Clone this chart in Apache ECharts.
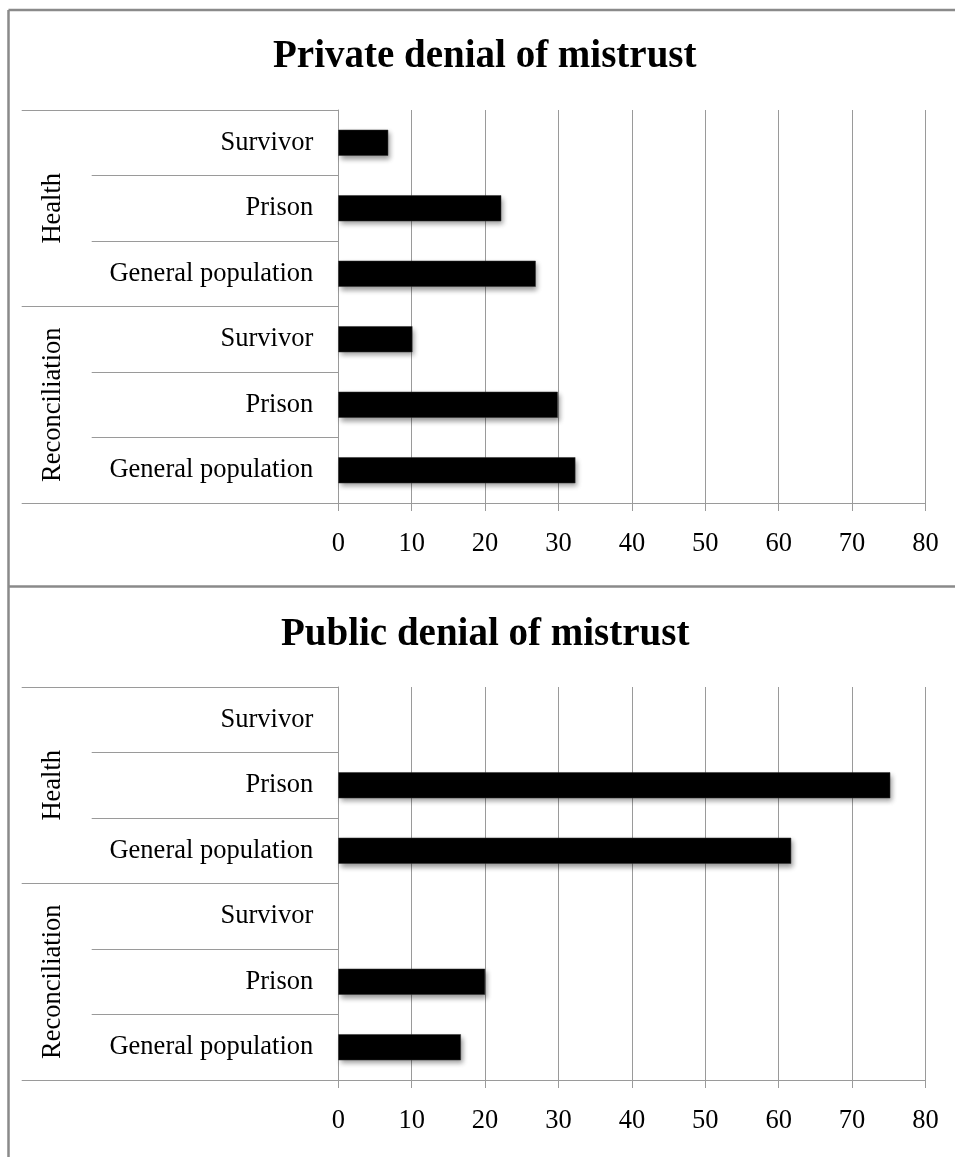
<!DOCTYPE html>
<html>
<head>
<meta charset="utf-8">
<script src="https://cdn.jsdelivr.net/npm/echarts@6/dist/echarts.min.js"></script>
<style>
  html, body { margin: 0; padding: 0; background: #fff; }
  #chart { width: 955px; height: 1157px; }
</style>
</head>
<body>
<div id="chart"></div>
<script>
// ---- data ----
const titles = ['Private denial of mistrust', 'Public denial of mistrust'];
const groups = ['Health', 'Reconciliation'];
const categories = ['Survivor', 'Prison', 'General population', 'Survivor', 'Prison', 'General population'];
const privateValues = [6.8, 22.2, 26.9, 10.1, 29.9, 32.3];
const publicValues = [null, 75.2, 61.7, null, 20, 16.7];
const xTicks = [0, 10, 20, 30, 40, 50, 60, 70, 80];

const panels = [privateValues, publicValues];

const FONT = '"Liberation Serif", "Times New Roman", serif';
const LINE = '#9a9a9a';
const FRAME = '#8a8a8a';
const gridLeft = 338.3, gridWidth = 587.2, gridHeight = 393;
const gridTops = [110, 687];
const titleTops = [37, 615];
const titleLefts = [273, 281];

const option = {
  backgroundColor: '#fff',
  animation: false,
  title: [],
  grid: [],
  xAxis: [],
  yAxis: [],
  series: [],
  graphic: [
    { type: 'line', shape: { x1: 8.5, y1: 10, x2: 955, y2: 10 }, style: { stroke: FRAME, lineWidth: 2.5 } },
    { type: 'line', shape: { x1: 8.5, y1: 10, x2: 8.5, y2: 1157 }, style: { stroke: FRAME, lineWidth: 2.5 } },
    { type: 'line', shape: { x1: 8.5, y1: 586.5, x2: 955, y2: 586.5 }, style: { stroke: FRAME, lineWidth: 2.5 } }
  ]
};

panels.forEach((vals, i) => {
  option.title.push({
    text: titles[i],
    left: titleLefts[i],
    top: titleTops[i],
    padding: 0,
    textStyle: { fontFamily: FONT, fontSize: 39, fontWeight: 'bold', color: '#000', lineHeight: 39 }
  });
  option.grid.push({ left: gridLeft, top: gridTops[i], width: gridWidth, height: gridHeight, containLabel: false });
  option.xAxis.push({
    type: 'value', gridIndex: i,
    min: xTicks[0], max: xTicks[xTicks.length - 1], interval: xTicks[1] - xTicks[0],
    axisLine: { show: true, lineStyle: { color: LINE, width: 1 } },
    axisTick: { show: true, length: 8, lineStyle: { color: LINE } },
    splitLine: { show: true, lineStyle: { color: LINE, width: 1 } },
    axisLabel: { fontFamily: FONT, fontSize: 26.5, color: '#000', margin: 28 }
  });
  // inner category axis
  option.yAxis.push({
    type: 'category', gridIndex: i, position: 'left', inverse: true,
    data: categories,
    axisLine: { show: true, onZero: false, lineStyle: { color: LINE, width: 1 } },
    axisTick: { show: true, length: 246.6, lineStyle: { color: LINE } },
    splitLine: { show: false },
    axisLabel: { interval: 0, fontFamily: FONT, fontSize: 26.5, color: '#000', margin: 25 }
  });
  // group axis
  option.yAxis.push({
    type: 'category', gridIndex: i, position: 'left', inverse: true,
    data: groups,
    axisLine: { show: false, onZero: false },
    axisTick: { show: true, length: 316.6, lineStyle: { color: LINE } },
    splitLine: { show: false },
    axisLabel: { interval: 0, rotate: 90, fontFamily: FONT, fontSize: 26.5, color: '#000', margin: 272 }
  });
  option.series.push({
    type: 'bar',
    xAxisIndex: i,
    yAxisIndex: i * 2,
    data: vals,
    barWidth: 26,
    itemStyle: {
      color: '#000',
      borderColor: '#333',
      borderWidth: 0.5,
      shadowColor: 'rgba(0,0,0,0.4)',
      shadowBlur: 5,
      shadowOffsetX: 2,
      shadowOffsetY: 3
    }
  });
});

const chart = echarts.init(document.getElementById('chart'), null, { renderer: 'canvas' });
chart.setOption(option);
</script>
</body>
</html>
